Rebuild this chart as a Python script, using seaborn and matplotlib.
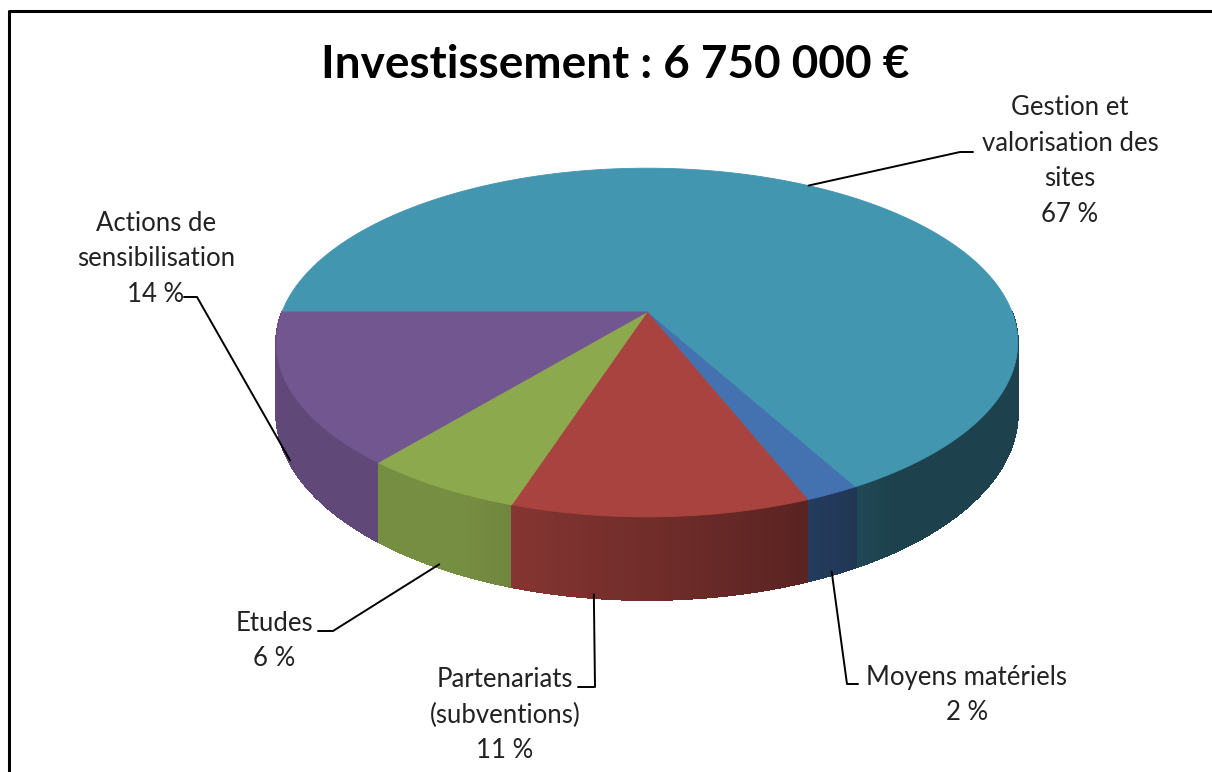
import numpy as np
import matplotlib
matplotlib.use("Agg")
import matplotlib.pyplot as plt
import seaborn as sns
from matplotlib.collections import PolyCollection

# data
categories = ["Gestion et\nvalorisation des\nsites", "Moyens matériels",
              "Partenariats\n(subventions)", "Etudes", "Actions de\nsensibilisation"]
shares = [67, 2, 11, 6, 14]
top_colors = ["#4396B0", "#4471B0", "#A8433F", "#8DA94E", "#72568F"]
title = "Investissement : 6 750 000 €"

# layout of the fake 3D pie (pixels)
CX, CY = 647, 312
RX, RY = 365, 169
PERSP = 0.175
DEPTH = 68.5
START = 180  # first slice starts at 9 o'clock, goes clockwise

# label layout: text centre, elbow of leader, end of the small tick, anchor position in slice
label_pos = [(1070, 161), (967, 695), (505, 715), (274, 641), (156, 259)]
elbows = [(960, 152), (847, 684), (595, 687), (333, 631), (197, 297)]
tick_ends = [973, 858, 578, 318, 184]
anchor_frac = [0.5, 0.5, 0.72, 0.5, 0.5]


def project(phi_deg, drop=0.0):
    p = np.radians(phi_deg)
    u, v = np.cos(p), np.sin(p)
    s = 1.0 / (1.0 + PERSP * v)
    return CX + RX * u * s, CY - RY * v * s + drop * s


def shade(color, phi):
    f = 0.44 + 0.40 * np.clip((-phi - 55) / 60.0, 0, 1)
    rgb = np.array(matplotlib.colors.to_rgb(color))
    return tuple(rgb * f)


sns.set_theme(style="white")
plt.rcParams["font.family"] = ["Lato", "DejaVu Sans"]

fig = plt.figure(figsize=(12.12, 7.72), dpi=100)
ax = fig.add_axes([0, 0, 1, 1])
ax.set_xlim(0, 1212)
ax.set_ylim(772, 0)
ax.axis("off")

cum = np.concatenate([[0], np.cumsum(shares)]) / sum(shares) * 360
bounds = [(START - cum[i], START - cum[i + 1]) for i in range(len(shares))]

# side wall (front half only), painted back to front
step = 0.5
phis = np.arange(-180, 0, step)
order = np.argsort(-np.sin(np.radians(phis + step / 2)))
quads, cols = [], []
for j in order:
    p0, p1 = phis[j], phis[j] + step
    off = (START - (p0 + step / 2)) % 360
    idx = int(np.searchsorted(cum, off, side="right") - 1)
    idx = min(idx, len(shares) - 1)
    x0, y0 = project(p0)
    x1, y1 = project(p1)
    x2, y2 = project(p1, DEPTH)
    x3, y3 = project(p0, DEPTH)
    quads.append([(x0, y0), (x1, y1), (x2, y2), (x3, y3)])
    cols.append(shade(top_colors[idx], p0 + step / 2))
ax.add_collection(PolyCollection(quads, facecolors=cols, edgecolors=cols,
                                 linewidths=0.8, antialiased=False))

# top face
for (a0, a1), col in zip(bounds, top_colors):
    arc = np.linspace(a0, a1, 200)
    xs, ys = project(arc)
    ax.fill(np.r_[CX, xs], np.r_[CY, ys], color=col, lw=0.6, ec=col, zorder=3)

# labels and leader lines
for i, (cat, val) in enumerate(zip(categories, shares)):
    a0, a1 = bounds[i]
    phi = a0 + (a1 - a0) * anchor_frac[i]
    if np.sin(np.radians(phi)) > 0:
        ax_, ay_ = project(phi)
    else:
        ax_, ay_ = project(phi, DEPTH - 3)
    ex, ey = elbows[i]
    ax.plot([ax_, ex, tick_ends[i]], [ay_, ey, ey], color="black", lw=1.4, zorder=4)
    tx, ty = label_pos[i]
    ax.text(tx, ty, f"{cat}\n{val} %", ha="center", va="center", fontsize=18.5,
            color="#222222", linespacing=1.52, zorder=5)

ax.text(615, 65, title, ha="center", va="center", fontsize=33, fontweight="bold",
        color="black")

# frame (only top and left edges visible)
ax.plot([9, 9, 1212], [772, 11, 11], color="black", lw=2.2, clip_on=False)

fig.savefig("out.png", dpi=100)
